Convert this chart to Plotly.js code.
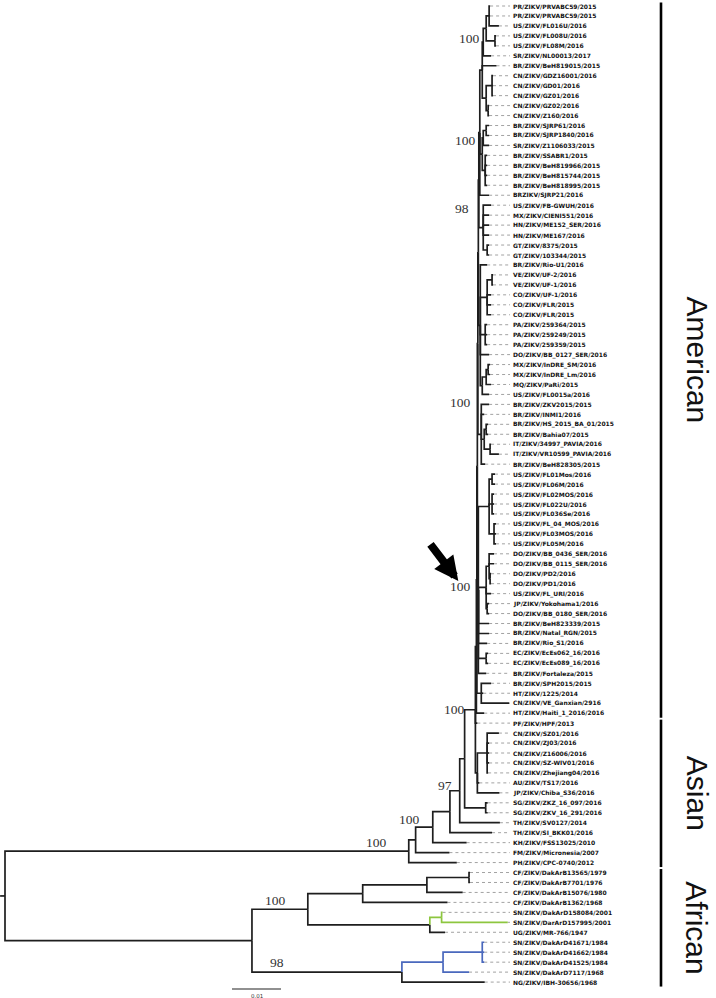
<!DOCTYPE html>
<html><head><meta charset="utf-8">
<script src="https://cdn.plot.ly/plotly-3.0.1.min.js"></script>
<style>html,body{margin:0;padding:0;background:#fff}#chart{width:716px;height:998px}</style>
</head><body><div id="chart"></div>
<script>
// ---------------- DATA ----------------
// Branch lengths are in units of 1e-4 substitutions/site; internal labels are bootstrap supports.
const LEN_UNIT = 1e-4;
const americanTop = "((((PR/ZIKV/PRVABC59/2015:2,PR/ZIKV/PRVABC59/2015:2,US/ZIKV/FL016U/2016:20):6,(US/ZIKV/FL008U/2016:2,US/ZIKV/FL08M/2016:2):18):6,SR/ZIKV/NL00013/2017:16)100:2,BR/ZIKV/BeH819015/2015:29,((CN/ZIKV/GDZ16001/2016:2,CN/ZIKV/GD01/2016:2,CN/ZIKV/GZ01/2016:2):12,(CN/ZIKV/GZ02/2016:2,CN/ZIKV/Z160/2016:2):4):8):5";
const americanSJ = "(((BR/ZIKV/SJRP61/2016:6,BR/ZIKV/SJRP1840/2016:6):6,SR/ZIKV/Z1106033/2015:12):2,(BR/ZIKV/SSABR1/2015:4,BR/ZIKV/BeH819966/2015:4,BR/ZIKV/BeH815744/2015:4,BR/ZIKV/BeH818995/2015:4):6)100:5";
const americanCA = "(US/ZIKV/FB-GWUH/2016:16,MX/ZIKV/CIENI551/2016:12,HN/ZIKV/ME152_SER/2016:12,HN/ZIKV/ME167/2016:12,(GT/ZIKV/8375/2015:4,GT/ZIKV/103344/2015:4):8)98:9";
const americanMid = "(BR/ZIKV/Rio-U1/2016:14,((VE/ZIKV/UF-2/2016:2,VE/ZIKV/UF-1/2016:2):10,CO/ZIKV/UF-1/2016:8,CO/ZIKV/FLR/2015:8,CO/ZIKV/FLR/2015:8):14,(PA/ZIKV/259364/2015:4,PA/ZIKV/259249/2015:4,PA/ZIKV/259359/2015:4):10,DO/ZIKV/BB_0127_SER/2016:18,(((MX/ZIKV/InDRE_SM/2016:4,MX/ZIKV/InDRE_Lm/2016:4):4,MQ/ZIKV/PaRi/2015:10):8,US/ZIKV/FL0015a/2016:14):4):4";
const americanBR = "(BR/ZIKV/ZKV2015/2015:16,BR/ZIKV/INMI1/2016:6,((BR/ZIKV/HS_2015_BA_01/2015:4,BR/ZIKV/Bahia07/2015:4):4,(IT/ZIKV/34997_PAVIA/2016:2,IT/ZIKV/VR10599_PAVIA/2016:18):12):6,BR/ZIKV/BeH828305/2015:8)100:7";
const americanFL = "(((US/ZIKV/FL01Mos/2016:6,US/ZIKV/FL06M/2016:6):6,(US/ZIKV/FL02MOS/2016:4,US/ZIKV/FL022U/2016:4,US/ZIKV/FL036Se/2016:4):6,(US/ZIKV/FL_04_MOS/2016:4,US/ZIKV/FL03MOS/2016:4,US/ZIKV/FL05M/2016:4):10):22,((DO/ZIKV/BB_0436_SER/2016:10,DO/ZIKV/BB_0115_SER/2016:10,(DO/ZIKV/PD2/2016:2,DO/ZIKV/PD1/2016:2):2):6,US/ZIKV/FL_URI/2016:10,(JP/ZIKV/Yokohama1/2016:4,DO/ZIKV/BB_0180_SER/2016:4):2):16,BR/ZIKV/BeH823339/2015:22,BR/ZIKV/Natal_RGN/2015:22,BR/ZIKV/Rio_S1/2016:18,(EC/ZIKV/EcEs062_16/2016:4,EC/ZIKV/EcEs089_16/2016:4):16,BR/ZIKV/Fortaleza/2015:16)100:2";
const americanHT = "(BR/ZIKV/SPH2015/2015:20,HT/ZIKV/1225/2014:4,CN/ZIKV/VE_Ganxian/2916:57):9";
const americanHaiti = "HT/ZIKV/Haiti_1_2016/2016:16";
const asianCN = "((CN/ZIKV/SZ01/2016:24,CN/ZIKV/ZJ03/2016:4,CN/ZIKV/Z16006/2016:4,CN/ZIKV/SZ-WIV01/2016:4,CN/ZIKV/Zhejiang04/2016:2):20,AU/ZIKV/TS17/2016:4,JP/ZIKV/Chiba_S36/2016:45):4";
const asianPF = "PF/ZIKV/HPF/2013:4";
const asianSG = "(SG/ZIKV/ZKZ_16_097/2016:4,SG/ZIKV/ZKV_16_291/2016:4):43";
const asianOuter = ["TH/ZIKV/SV0127/2014:82", "TH/ZIKV/SI_BKK01/2016:86", "KH/ZIKV/FSS13025/2010:69", "FM/ZIKV/Micronesia/2007:69", "PH/ZIKV/CPC-0740/2012:98"];
const african = "(((((CF/ZIKV/DakArB13565/1979:2,CF/ZIKV/DakArB7701/1976:2):86,CF/ZIKV/DakArB15076/1980:73):131,CF/ZIKV/DakArB1362/1968:173):112,((SN/ZIKV/DakArD158084/2001:2,SN/ZIKV/DarArD157995/2001:135)GREEN:24,UG/ZIKV/MR-766/1947:31):249)100:114,(((SN/ZIKV/DakArD41671/1984:4,SN/ZIKV/DakArD41662/1984:4,SN/ZIKV/DakArD41525/1984:4):80,SN/ZIKV/DakArD7117/1968:53)BLUE:84,NG/ZIKV/IBH-30656/1968:169)98:306):504";

const cladeNames = ["American", "Asian", "African"];
const cladeFirstTip = [0, 72, 87];
const cladeLastTip = [71, 86, 98];
const scaleBarLength = 0.01;
const scaleBarLabel = "0.01";

// assemble the Newick tree from the clade pieces
const A4 = "(" + americanTop + "," + americanSJ + ",BRZIKV/SJRP21/2016:19):2";
const A3 = "(" + A4 + "," + americanCA + "):1";
const A2 = "(" + A3 + "," + americanMid + "):1";
const A1 = "(" + A2 + "," + americanBR + "):1";
const Am2 = "(" + A1 + "," + americanFL + "):1";
const Am1 = "(" + Am2 + "," + americanHT + "):1";
const Am = "(" + Am1 + "," + americanHaiti + "):2";
const X = "(" + Am + "," + asianPF + "," + asianCN + ")100:22";
const N465 = "(" + X + "," + asianSG + "):10";
const N460 = "(" + N465 + "," + asianOuter[0] + ")97:20";
const N450 = "(" + N460 + "," + asianOuter[1] + "):35";
const N433 = "(" + N450 + "," + asianOuter[2] + ")100:35";
const N416 = "(" + N433 + "," + asianOuter[3] + "):14";
const AsAm = "(" + N416 + "," + asianOuter[4] + ")100:824";
const newick = "(" + AsAm + "," + african + "):10;";

// ---------------- STYLE / LAYOUT ----------------
const W = 716, H = 998;
const PXD = 0.01 / 49;                 // data units per pixel (scale bar 0.01 = 49 px)
const X0 = 0.001 - 5 * PXD;
const xr = [X0, X0 + W * PXD];
const TIP_PX0 = 6, TIP_STEP = 9.96;
const yr = [(H - TIP_PX0) / TIP_STEP, -TIP_PX0 / TIP_STEP];
const px2x = p => X0 + p * PXD;
const px2y = p => (p - TIP_PX0) / TIP_STEP;
const LABEL_X = px2x(512), LEADER_END = px2x(510);
const BAR_X = px2x(661), CLADE_TEXT_X = px2x(697);
const SB_X = px2x(232), SB_Y = px2y(989), SB_TEXT_Y = px2y(996);
const COLORS = {base: "#1e1e1e", GREEN: "#8dc63f", BLUE: "#4a68bd"};
// support label offsets (px) in preorder: [dx of right edge, dy of centre]
const supportOffsets = [[-21,-8.5],[-12,-7.5],[-7,-5],[-9,0],[-2,-4],[-5,-14],[-13,-19.5],[-9,-32],[-6,-3],[-21,-9],[-117,-10]];

// ---------------- PARSE + LAYOUT ----------------
function parseNewick(s) {
  s = s.replace(/\s+/g, "");
  let i = 0;
  function node() {
    const n = {children: [], name: "", len: 0};
    if (s[i] === "(") {
      i++;
      n.children.push(node());
      while (s[i] === ",") { i++; n.children.push(node()); }
      i++;
    }
    let name = "";
    while (i < s.length && !",):;".includes(s[i])) name += s[i++];
    n.name = name;
    if (s[i] === ":") {
      i++; let num = "";
      while (i < s.length && !",);".includes(s[i])) num += s[i++];
      n.len = parseFloat(num);
    }
    return n;
  }
  return node();
}
const root = parseNewick(newick);
const tips = [], supports = [];
let tipCount = 0;
function layout(n, px, color) {
  n.x = px + n.len * LEN_UNIT;
  if (COLORS[n.name]) color = COLORS[n.name];
  n.color = color;
  if (n.children.length && /^\d+$/.test(n.name)) supports.push(n);
  if (!n.children.length) { n.y = tipCount++; tips.push(n); return; }
  n.children.forEach(c => layout(c, n.x, color));
  n.y = (n.children[0].y + n.children[n.children.length - 1].y) / 2;
}
layout(root, 0, COLORS.base);

// branch segments grouped by colour
const segs = {};
function addSeg(color, xs, ys) {
  if (!segs[color]) segs[color] = {x: [], y: []};
  segs[color].x.push(...xs, null); segs[color].y.push(...ys, null);
}
addSeg(root.color, [0, root.x], [root.y, root.y]);
(function walk(n) {
  n.children.forEach(c => { addSeg(c.color, [n.x, n.x, c.x], [n.y, c.y, c.y]); walk(c); });
})(root);

const traces = [];
// dotted leaders
const lx = [], ly = [];
tips.forEach(t => { lx.push(t.x, LEADER_END, null); ly.push(t.y, t.y, null); });
traces.push({x: lx, y: ly, mode: "lines", line: {color: "#8a8a8a", width: 0.8, dash: "dot"}, hoverinfo: "skip"});
Object.keys(segs).forEach(c => traces.push({x: segs[c].x, y: segs[c].y, mode: "lines",
  line: {color: c, width: 1.7}, hoverinfo: "skip"}));
// clade bars
cladeNames.forEach((nm, k) => traces.push({x: [BAR_X, BAR_X], y: [cladeFirstTip[k] - 0.35, cladeLastTip[k] + 0.45],
  mode: "lines", line: {color: "#000", width: 2.6}, hoverinfo: "skip"}));
// scale bar
traces.push({x: [SB_X, SB_X + scaleBarLength], y: [SB_Y, SB_Y], mode: "lines", line: {color: "#222", width: 1.2}, hoverinfo: "skip"});

const annotations = [];
tips.forEach(t => annotations.push({x: LABEL_X, y: t.y, text: "<b>" + t.name + "</b>", showarrow: false,
  xanchor: "left", yanchor: "middle", borderpad: 0, font: {family: "DejaVu Sans", size: 6, color: "#111"}}));
supports.forEach((n, k) => {
  const o = supportOffsets[k] || [-8, -8];
  annotations.push({x: n.x + o[0] * PXD, y: n.y + o[1] / TIP_STEP, text: n.name, showarrow: false,
    xanchor: "right", yanchor: "middle", borderpad: 0, font: {family: "Liberation Serif", size: 13.5, color: "#333"}});
});
cladeNames.forEach((nm, k) => annotations.push({x: CLADE_TEXT_X, y: (cladeFirstTip[k] + cladeLastTip[k]) / 2, text: nm,
  textangle: 90, showarrow: false, xanchor: "center", yanchor: "middle",
  font: {family: "Liberation Sans", size: 30, color: "#111"}}));
annotations.push({x: SB_X + scaleBarLength / 2, y: SB_TEXT_Y, text: scaleBarLabel, showarrow: false,
  font: {family: "DejaVu Sans", size: 5.5, color: "#333"}});
// arrow pointing to the supported American sub-lineage node
const arrowNode = supports[8];
annotations.push({x: arrowNode.x - 20 * PXD, y: arrowNode.y - 9 / TIP_STEP, ax: -29, ay: -38, text: "",
  showarrow: true, arrowhead: 2, arrowsize: 0.6, arrowwidth: 8, arrowcolor: "#000", standoff: 0});

Plotly.newPlot("chart", traces, {
  width: W, height: H, margin: {l: 0, r: 0, t: 0, b: 0, pad: 0},
  paper_bgcolor: "#fff", plot_bgcolor: "#fff", showlegend: false,
  xaxis: {range: xr, visible: false, fixedrange: true},
  yaxis: {range: yr, visible: false, fixedrange: true},
  annotations: annotations
}, {staticPlot: true});
</script></body></html>
